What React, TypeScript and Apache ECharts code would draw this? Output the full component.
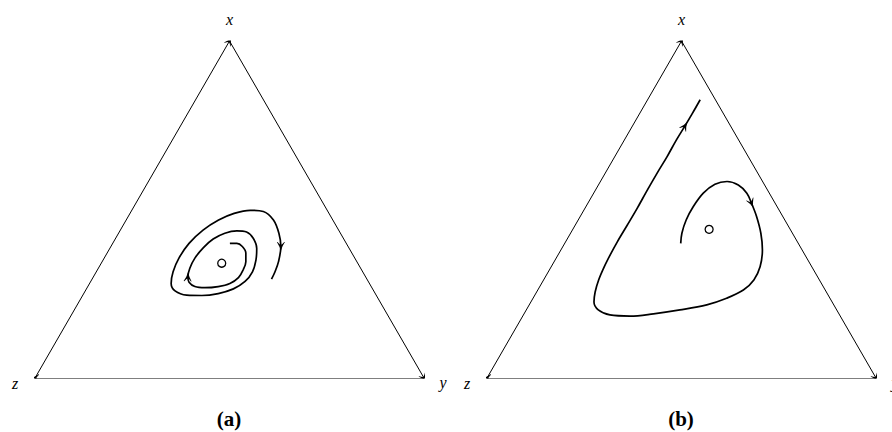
import React, { useEffect, useRef } from "react";
import * as echarts from "echarts";

// Simplex plane coordinates: u horizontal (0 = z vertex, 100 = y vertex), v vertical (0 = base, 86.6 = x vertex)
const H = 86.6;
const vertexNames = ["x", "y", "z"];
const vertexPos: [number, number][] = [
  [50, H],
  [100, 0],
  [0, 0],
];
// edges drawn from -> to (arrow at "to")
const edges: [number, number][][] = [
  [[0, 0], [50, H]],
  [[50, H], [100, 0]],
  [[100, 0], [0, 0]],
];

const captions = ["(a)", "(b)"];

const trajA: [number, number][] = [
  [50.1, 34.6], [51.9, 34.6], [53.3, 33.8], [54.2, 32.1], [54.2, 29.9], [53.5, 27.8],
  [52.3, 25.8], [50.1, 24.3], [47.1, 23.5], [43.7, 23.2], [41.1, 23.5], [39.6, 24.6],
  [39.3, 26.0], [39.8, 28.2], [41.1, 30.8], [43.3, 33.5], [45.8, 35.7], [48.8, 37.2],
  [51.9, 37.8], [54.4, 37.5], [56.1, 35.9], [57.0, 33.3], [56.8, 30.3], [55.9, 27.3],
  [54.0, 24.8], [51.0, 22.9], [47.1, 21.7], [42.9, 21.2], [39.0, 21.3], [36.0, 22.4],
  [35.0, 24.3], [35.5, 27.3], [37.0, 30.8], [39.6, 34.6], [43.2, 38.0], [47.2, 40.6],
  [51.2, 42.3], [55.3, 43.1], [58.7, 42.8], [61.3, 40.6], [62.7, 37.2], [63.2, 33.8],
  [62.6, 29.9], [61.7, 27.3], [60.8, 25.4],
];
const arrowIdxA = [12, 41];
const centerA: [number, number] = [48.0, 29.5];

const trajB: [number, number][] = [
  [49.8, 34.6], [50.1, 37.2], [51.2, 40.6], [53.0, 44.0], [55.6, 47.5], [58.6, 49.8],
  [61.7, 50.5], [64.6, 49.6], [66.8, 47.5], [68.0, 44.9], [69.3, 41.5], [70.4, 37.2],
  [70.8, 32.9], [70.2, 28.6], [68.6, 25.2], [65.9, 22.6], [61.6, 20.5], [56.5, 18.8],
  [49.6, 17.5], [42.8, 16.5], [36.8, 15.9], [31.6, 16.2], [28.6, 17.5], [27.5, 19.5],
  [27.8, 22.1], [28.7, 25.2], [30.1, 28.5], [31.7, 31.7], [33.5, 35.0], [36.0, 39.2],
  [38.6, 43.6], [41.1, 48.1], [43.7, 52.6], [46.3, 56.9], [48.7, 61.2], [50.9, 64.8],
  [52.8, 68.0], [54.8, 71.5],
];
const arrowIdxB = [9, 35];
const centerB: [number, number] = [57.1, 38.2];

const CHEVRON = "path://M5,0 Q6.4,5 10,10 L9.2,10 Q6.5,7.2 5,6.6 Q3.5,7.2 0.8,10 L0,10 Q3.6,5 5,0 Z";

function arrowItems(traj: [number, number][], idxs: number[]) {
  return idxs.map((i) => {
    const a = traj[i - 1];
    const b = traj[i + 1];
    const ang = (Math.atan2(b[1] - a[1], b[0] - a[0]) * 180) / Math.PI - 90;
    return { value: traj[i], symbolRotate: ang };
  });
}

const labelOffsets: [number, number][] = [
  [0, -22],
  [19, 4],
  [-20, 5],
];

const LABEL_FONT = "'Liberation Serif', 'DejaVu Serif', serif";

function panelSeries(p: number, traj: [number, number][], idxs: number[], center: [number, number]) {
  return [
    {
      type: "lines",
      coordinateSystem: "cartesian2d",
      xAxisIndex: p,
      yAxisIndex: p,
      silent: true,
      data: edges.map((e) => ({ coords: e })),
      lineStyle: { color: "#000", width: 1, opacity: 1, curveness: 0 },
      symbol: ["none", CHEVRON],
      symbolSize: 8,
      z: 2,
    },
    {
      type: "line",
      xAxisIndex: p,
      yAxisIndex: p,
      data: traj,
      smooth: 0.35,
      showSymbol: false,
      symbol: "none",
      silent: true,
      lineStyle: { color: "#000", width: 1.7 },
      z: 3,
    },
    {
      type: "scatter",
      xAxisIndex: p,
      yAxisIndex: p,
      silent: true,
      data: arrowItems(traj, idxs),
      symbol: CHEVRON,
      symbolSize: [8, 9],
      itemStyle: { color: "#000", opacity: 1 },
      z: 4,
    },
    {
      type: "scatter",
      xAxisIndex: p,
      yAxisIndex: p,
      silent: true,
      data: [center],
      symbol: "circle",
      symbolSize: 8,
      itemStyle: { color: "#fff", borderColor: "#000", borderWidth: 1.3, opacity: 1 },
      z: 5,
    },
    {
      type: "scatter",
      xAxisIndex: p,
      yAxisIndex: p,
      silent: true,
      data: vertexNames.map((n, i) => ({
        name: n,
        value: vertexPos[i],
        label: { offset: labelOffsets[i] },
      })),
      symbolSize: 1,
      itemStyle: { color: "transparent", opacity: 1 },
      label: {
        show: true,
        position: "inside",
        formatter: "{b}",
        fontFamily: LABEL_FONT,
        fontStyle: "italic",
        fontSize: 16,
        color: "#000",
        opacity: 1,
      },
      z: 6,
    },
  ];
}

export default function App() {
  const ref = useRef<HTMLDivElement>(null);
  useEffect(() => {
    if (!ref.current) return;
    const chart = echarts.init(ref.current, undefined, { renderer: "svg" });
    const grids = [
      { left: 35, top: 41, width: 389, height: 337 },
      { left: 487, top: 41, width: 389, height: 337 },
    ];
    chart.setOption({
      animation: false,
      backgroundColor: "#fff",
      grid: grids,
      xAxis: grids.map((_, i) => ({ type: "value", gridIndex: i, min: 0, max: 100, show: false })),
      yAxis: grids.map((_, i) => ({ type: "value", gridIndex: i, min: 0, max: H, show: false })),
      graphic: captions.map((c, i) => ({
        type: "text",
        x: grids[i].left + grids[i].width / 2 - 0.5,
        y: 419,
        style: {
          text: c,
          fontSize: 21,
          fontWeight: "bold",
          fontFamily: "Liberation Serif",
          align: "center",
          verticalAlign: "middle",
          fill: "#000",
        },
      })),
      series: [
        ...panelSeries(0, trajA, arrowIdxA, centerA),
        ...panelSeries(1, trajB, arrowIdxB, centerB),
      ],
    });
    return () => chart.dispose();
  }, []);
  return (
    <div
      ref={ref}
      style={{ position: "fixed", left: 0, top: 0, width: 892, height: 432 }}
    />
  );
}
